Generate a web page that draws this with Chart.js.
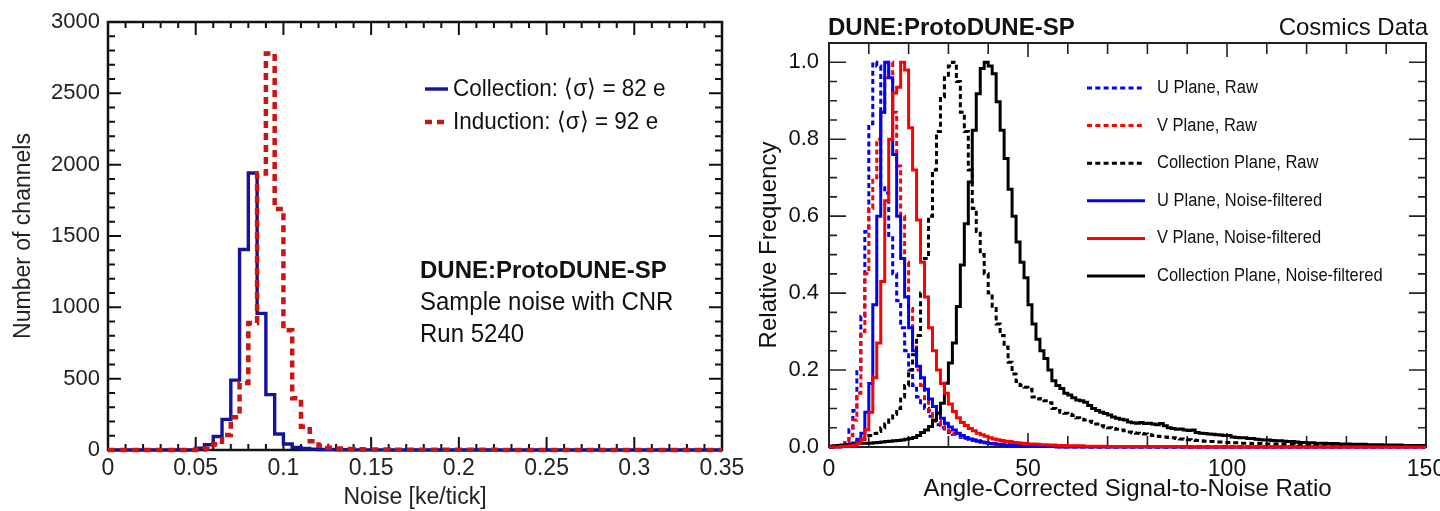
<!DOCTYPE html>
<html>
<head>
<meta charset="utf-8">
<script src="https://cdn.jsdelivr.net/npm/chart.js@4.4.1/dist/chart.umd.min.js"></script>
<style>
  html, body { margin: 0; padding: 0; background: #fff; overflow: hidden; }
  #wrap { position: relative; width: 1440px; height: 511px; overflow: hidden; }
  #noise { position: absolute; left: 0; top: 0; }
  #snr { position: absolute; left: 740px; top: 0; }
</style>
</head>
<body>
<div id="wrap">
  <canvas id="noise" width="760" height="511"></canvas>
  <canvas id="snr" width="720" height="511"></canvas>
</div>
<script>
// ---- left panel: noise per channel, bins of 0.005 ke/tick from 0 to 0.35 ----
const noiseBinWidth = 0.005;
const collectionCounts = [
  0, 0, 0, 0, 0, 0, 0, 0, 0, 0,
  12, 38, 95, 215, 490, 1405, 1942, 958, 388, 112,
  42, 18, 10, 6, 4, 3, 2, 2, 1, 1,
  1, 1, 0, 0, 0, 0, 0, 0, 0, 0,
  0, 0, 0, 0, 0, 0, 0, 0, 0, 0,
  0, 0, 0, 0, 0, 0, 0, 0, 0, 0,
  0, 0, 0, 0, 0, 0, 0, 0, 0, 0,
];
const inductionCounts = [
  0, 0, 0, 0, 0, 0, 0, 0, 0, 0,
  3, 10, 40, 105, 230, 470, 890, 1938, 2780, 1690,
  840, 362, 163, 62, 30, 16, 10, 7, 5, 4,
  3, 3, 2, 2, 2, 1, 1, 1, 1, 1,
  1, 1, 1, 1, 1, 0, 0, 0, 0, 0,
  0, 0, 0, 0, 0, 0, 0, 0, 0, 0,
  0, 0, 0, 0, 0, 0, 0, 0, 0, 0,
];
const noiseTicks = [0, 0.05, 0.1, 0.15, 0.2, 0.25, 0.3, 0.35];
const noiseTickLabels = ["0", "0.05", "0.1", "0.15", "0.2", "0.25", "0.3", "0.35"];
const channelTicks = [0, 500, 1000, 1500, 2000, 2500, 3000];
const channelTickLabels = ["0", "500", "1000", "1500", "2000", "2500", "3000"];

// ---- right panel: angle-corrected S/N, bins of 1 from 0 to 150, peak-normalised ----
const snrBinWidth = 1;
const uRaw = [
  0, 0, 0.002, 0.006, 0.015, 0.045, 0.095, 0.2, 0.34, 0.56,
  0.84, 1.0, 0.99, 0.68, 0.66, 0.55, 0.45, 0.38, 0.31, 0.25,
  0.2, 0.16, 0.13, 0.11, 0.1, 0.08, 0.068, 0.058, 0.05, 0.043,
  0.038, 0.033, 0.029, 0.025, 0.022, 0.02, 0.018, 0.016, 0.014, 0.012,
  0.01, 0.009, 0.008, 0.007, 0.006, 0.005, 0.004, 0.004, 0.003, 0.003,
  0.002, 0.002, 0.002, 0.001, 0.001, 0.001, 0.001, 0, 0, 0,
  0, 0, 0, 0, 0, 0, 0, 0, 0, 0,
  0, 0, 0, 0, 0, 0, 0, 0, 0, 0,
  0, 0, 0, 0, 0, 0, 0, 0, 0, 0,
  0, 0, 0, 0, 0, 0, 0, 0, 0, 0,
  0, 0, 0, 0, 0, 0, 0, 0, 0, 0,
  0, 0, 0, 0, 0, 0, 0, 0, 0, 0,
  0, 0, 0, 0, 0, 0, 0, 0, 0, 0,
  0, 0, 0, 0, 0, 0, 0, 0, 0, 0,
  0, 0, 0, 0, 0, 0, 0, 0, 0, 0,
];
const vRaw = [
  0, 0, 0.002, 0.005, 0.012, 0.03, 0.07, 0.14, 0.3, 0.45,
  0.62, 0.7, 0.8, 0.87, 0.96, 1.0, 0.87, 0.73, 0.6, 0.48,
  0.36, 0.26, 0.2, 0.16, 0.12, 0.095, 0.08, 0.066, 0.056, 0.047,
  0.04, 0.035, 0.03, 0.026, 0.022, 0.019, 0.017, 0.015, 0.013, 0.011,
  0.01, 0.009, 0.008, 0.007, 0.006, 0.005, 0.005, 0.004, 0.004, 0.003,
  0.003, 0.003, 0.002, 0.002, 0.002, 0.002, 0.001, 0.001, 0.001, 0.001,
  0.001, 0.001, 0.001, 0.001, 0.001, 0, 0, 0, 0, 0,
  0, 0, 0, 0, 0, 0, 0, 0, 0, 0,
  0, 0, 0, 0, 0, 0, 0, 0, 0, 0,
  0, 0, 0, 0, 0, 0, 0, 0, 0, 0,
  0, 0, 0, 0, 0, 0, 0, 0, 0, 0,
  0, 0, 0, 0, 0, 0, 0, 0, 0, 0,
  0, 0, 0, 0, 0, 0, 0, 0, 0, 0,
  0, 0, 0, 0, 0, 0, 0, 0, 0, 0,
  0, 0, 0, 0, 0, 0, 0, 0, 0, 0,
];
const cRaw = [
  0, 0.001, 0.002, 0.003, 0.005, 0.008, 0.01, 0.015, 0.02, 0.025,
  0.03, 0.035, 0.04, 0.05, 0.06, 0.07, 0.085, 0.1, 0.13, 0.16,
  0.2, 0.24, 0.29, 0.4, 0.49, 0.6, 0.72, 0.82, 0.91, 0.96,
  0.99, 1.0, 0.95, 0.87, 0.82, 0.72, 0.62, 0.56, 0.5, 0.45,
  0.4, 0.36, 0.32, 0.29, 0.26, 0.22, 0.19, 0.17, 0.16, 0.155,
  0.15, 0.13, 0.125, 0.126, 0.12, 0.115, 0.1, 0.095, 0.09, 0.088,
  0.085, 0.082, 0.076, 0.072, 0.07, 0.067, 0.064, 0.06, 0.055, 0.052,
  0.05, 0.048, 0.046, 0.044, 0.042, 0.039, 0.037, 0.036, 0.035, 0.034,
  0.032, 0.03, 0.028, 0.027, 0.026, 0.025, 0.024, 0.022, 0.021, 0.02,
  0.019, 0.018, 0.017, 0.016, 0.015, 0.014, 0.014, 0.013, 0.013, 0.012,
  0.012, 0.011, 0.011, 0.01, 0.01, 0.01, 0.009, 0.009, 0.009, 0.008,
  0.008, 0.008, 0.008, 0.007, 0.007, 0.007, 0.007, 0.006, 0.006, 0.006,
  0.006, 0.006, 0.005, 0.005, 0.005, 0.005, 0.005, 0.005, 0.004, 0.004,
  0.004, 0.004, 0.004, 0.004, 0.004, 0.003, 0.003, 0.003, 0.003, 0.003,
  0.003, 0.003, 0.003, 0.003, 0.002, 0.002, 0.002, 0.002, 0.002, 0.002,
];
const uFilt = [
  0, 0, 0, 0.001, 0.002, 0.005, 0.01, 0.02, 0.036, 0.09,
  0.165, 0.37, 0.6, 0.87, 1.0, 0.96, 0.76, 0.6, 0.49, 0.39,
  0.31, 0.25, 0.21, 0.18, 0.15, 0.125, 0.105, 0.088, 0.075, 0.062,
  0.052, 0.044, 0.036, 0.03, 0.025, 0.021, 0.018, 0.015, 0.013, 0.011,
  0.009, 0.008, 0.007, 0.006, 0.005, 0.004, 0.004, 0.003, 0.003, 0.002,
  0.002, 0.002, 0.002, 0.001, 0.001, 0.001, 0.001, 0.001, 0, 0,
  0, 0, 0, 0, 0, 0, 0, 0, 0, 0,
  0, 0, 0, 0, 0, 0, 0, 0, 0, 0,
  0, 0, 0, 0, 0, 0, 0, 0, 0, 0,
  0, 0, 0, 0, 0, 0, 0, 0, 0, 0,
  0, 0, 0, 0, 0, 0, 0, 0, 0, 0,
  0, 0, 0, 0, 0, 0, 0, 0, 0, 0,
  0, 0, 0, 0, 0, 0, 0, 0, 0, 0,
  0, 0, 0, 0, 0, 0, 0, 0, 0, 0,
  0, 0, 0, 0, 0, 0, 0, 0, 0, 0,
];
const vFilt = [
  0, 0, 0, 0.001, 0.002, 0.003, 0.005, 0.01, 0.02, 0.045,
  0.09, 0.18, 0.27, 0.43, 0.64, 0.8, 0.92, 0.935, 1.0, 0.98,
  0.83, 0.72, 0.59, 0.48, 0.39, 0.31, 0.25, 0.2, 0.165, 0.14,
  0.112, 0.092, 0.076, 0.064, 0.056, 0.048, 0.042, 0.036, 0.032, 0.028,
  0.024, 0.021, 0.019, 0.017, 0.015, 0.014, 0.012, 0.011, 0.01, 0.009,
  0.008, 0.008, 0.007, 0.006, 0.006, 0.005, 0.005, 0.004, 0.004, 0.004,
  0.003, 0.003, 0.003, 0.003, 0.002, 0.002, 0.002, 0.002, 0.002, 0.002,
  0.001, 0.001, 0.001, 0.001, 0.001, 0.001, 0.001, 0.001, 0.001, 0.001,
  0.001, 0.001, 0.001, 0.001, 0.001, 0.001, 0.001, 0.001, 0.001, 0.001,
  0, 0, 0, 0, 0, 0, 0, 0, 0, 0,
  0, 0, 0, 0, 0, 0, 0, 0, 0, 0,
  0, 0, 0, 0, 0, 0, 0, 0, 0, 0,
  0, 0, 0, 0, 0, 0, 0, 0, 0, 0,
  0, 0, 0, 0, 0, 0, 0, 0, 0, 0,
  0, 0, 0, 0, 0, 0, 0, 0, 0, 0,
];
const cFilt = [
  0.002, 0.003, 0.004, 0.005, 0.006, 0.007, 0.008, 0.009, 0.01, 0.01,
  0.01, 0.011, 0.012, 0.013, 0.014, 0.015, 0.016, 0.017, 0.018, 0.02,
  0.022, 0.025, 0.03, 0.038, 0.044, 0.053, 0.07, 0.088, 0.114, 0.166,
  0.218, 0.27, 0.365, 0.473, 0.58, 0.689, 0.823, 0.918, 0.984, 1.0,
  0.99, 0.97, 0.897, 0.823, 0.75, 0.67, 0.6, 0.533, 0.48, 0.44,
  0.37, 0.32, 0.28, 0.25, 0.23, 0.2, 0.172, 0.16, 0.152, 0.14,
  0.135, 0.128, 0.122, 0.12, 0.116, 0.108, 0.1, 0.095, 0.09, 0.087,
  0.083, 0.078, 0.075, 0.072, 0.07, 0.065, 0.063, 0.062, 0.064, 0.061,
  0.062, 0.06, 0.058, 0.061, 0.055, 0.05, 0.048, 0.046, 0.047, 0.044,
  0.043, 0.044, 0.038, 0.036, 0.035, 0.034, 0.033, 0.032, 0.031, 0.03,
  0.03, 0.026, 0.025, 0.024, 0.024, 0.022, 0.022, 0.02, 0.019, 0.018,
  0.018, 0.017, 0.016, 0.016, 0.015, 0.014, 0.014, 0.013, 0.012, 0.012,
  0.011, 0.011, 0.01, 0.01, 0.01, 0.009, 0.009, 0.009, 0.008, 0.008,
  0.008, 0.007, 0.007, 0.007, 0.007, 0.006, 0.006, 0.006, 0.006, 0.005,
  0.005, 0.005, 0.005, 0.005, 0.004, 0.004, 0.004, 0.004, 0.004, 0.004,
];
const snrTicks = [0, 50, 100, 150];
const snrTickLabels = ["0", "50", "100", "150"];
const freqTicks = [0, 0.2, 0.4, 0.6, 0.8, 1.0];
const freqTickLabels = ["0.0", "0.2", "0.4", "0.6", "0.8", "1.0"];

Chart.defaults.font.family = '"Liberation Sans", Arial, Helvetica, sans-serif';
Chart.defaults.color = "#111";

// one point per bin low edge plus a closing point at the last high edge
function histPoints(values, width) {
  const pts = values.map((v, i) => ({ x: i * width, y: v }));
  pts.push({ x: values.length * width, y: values[values.length - 1] });
  return pts;
}

function isMultiple(v, step) {
  const r = v / step;
  return Math.abs(r - Math.round(r)) < 1e-6;
}

// ROOT-style frame with inward ticks on all four sides
function framePlugin(cfg) {
  return {
    id: "frame",
    beforeDatasetsDraw(chart) {
      const { ctx, chartArea: a, scales: { x, y } } = chart;
      ctx.save();
      ctx.strokeStyle = cfg.color;
      ctx.lineWidth = cfg.tickWidth;
      ctx.beginPath();
      const nx = Math.round((x.max - x.min) / cfg.xMinor);
      for (let i = 0; i <= nx; i++) {
        const v = x.min + i * cfg.xMinor;
        const px = x.getPixelForValue(v);
        const len = isMultiple(v, cfg.xMajor) ? cfg.xMajorLen : cfg.xMinorLen;
        ctx.moveTo(px, a.bottom);
        ctx.lineTo(px, a.bottom - len);
        ctx.moveTo(px, a.top);
        ctx.lineTo(px, a.top + len);
      }
      const ny = Math.round((y.max - y.min) / cfg.yMinor);
      for (let i = 0; i <= ny; i++) {
        const v = y.min + i * cfg.yMinor;
        const py = y.getPixelForValue(v);
        const len = isMultiple(v, cfg.yMajor) ? cfg.yMajorLen : cfg.yMinorLen;
        ctx.moveTo(a.left, py);
        ctx.lineTo(a.left + len, py);
        ctx.moveTo(a.right, py);
        ctx.lineTo(a.right - len, py);
      }
      ctx.stroke();
      ctx.lineWidth = cfg.frameWidth;
      ctx.strokeRect(a.left, a.top, a.right - a.left, a.bottom - a.top);
      ctx.restore();
    },
  };
}

// draw text slightly taller than the font's natural shape (the original is a condensed Helvetica)
function drawText(ctx, text, x, y, font, align, stretchY) {
  ctx.save();
  ctx.font = font;
  ctx.fillStyle = "#111";
  ctx.textAlign = align || "left";
  ctx.textBaseline = "middle";
  ctx.translate(x, y);
  ctx.scale(1, stretchY || 1);
  ctx.fillText(text, 0, 0);
  ctx.restore();
}

// legend drawn inside the plot, one row per dataset in index order
function legendPlugin(cfg) {
  return {
    id: "inlineLegend",
    afterDatasetsDraw(chart) {
      const ctx = chart.ctx;
      chart.data.datasets.forEach((ds, i) => {
        const y = cfg.y + i * cfg.rowGap;
        ctx.save();
        ctx.strokeStyle = ds.borderColor;
        ctx.lineWidth = ds.borderWidth;
        ctx.setLineDash(ds.borderDash || []);
        ctx.beginPath();
        ctx.moveTo(cfg.x, y);
        ctx.lineTo(cfg.x + cfg.len, y);
        ctx.stroke();
        ctx.restore();
        drawText(ctx, ds.label, cfg.x + cfg.len + cfg.gap, y, cfg.font, "left", cfg.stretchY);
      });
    },
  };
}

function textPlugin(items) {
  return {
    id: "notes",
    afterDraw(chart) {
      items.forEach((t) => drawText(chart.ctx, t.text, t.x, t.y, t.font, t.align, t.stretchY));
    },
  };
}

const FONT = '"Liberation Sans", Arial, sans-serif';

new Chart(document.getElementById("noise"), {
  type: "line",
  data: {
    datasets: [
      {
        label: "Collection: \u27E8\u03C3\u27E9 = 82 e",
        data: histPoints(collectionCounts, noiseBinWidth),
        borderColor: "#14149a",
        borderWidth: 3.4,
        stepped: true,
        pointRadius: 0,
        clip: false,
        order: 1,
      },
      {
        label: "Induction: \u27E8\u03C3\u27E9 = 92 e",
        data: histPoints(inductionCounts, noiseBinWidth),
        borderColor: "#cc1414",
        borderWidth: 4.5,
        borderDash: [7, 5],
        stepped: true,
        pointRadius: 0,
        clip: false,
        order: 0,
      },
    ],
  },
  options: {
    responsive: false,
    animation: false,
    events: [],
    layout: { padding: { top: 22, right: 38, left: 0, bottom: 0 } },
    plugins: { legend: { display: false }, tooltip: { enabled: false } },
    scales: {
      x: {
        type: "linear",
        min: 0,
        max: 0.35,
        afterBuildTicks: (s) => { s.ticks = noiseTicks.map((v) => ({ value: v })); },
        afterFit: (s) => { s.height = 61; },
        grid: { display: false, drawTicks: false },
        border: { display: false },
        ticks: {
          padding: 5, color: "#222", font: { size: 23 }, maxRotation: 0, autoSkip: false,
          callback: (v, i) => noiseTickLabels[i],
        },
        title: {
          display: true, text: "Noise [ke/tick]", color: "#222",
          font: { size: 23 }, padding: { top: 0, bottom: 0 },
        },
      },
      y: {
        type: "linear",
        min: 0,
        max: 3000,
        afterBuildTicks: (s) => { s.ticks = channelTicks.map((v) => ({ value: v })); },
        afterFit: (s) => { s.width = 108; },
        grid: { display: false, drawTicks: false },
        border: { display: false },
        ticks: {
          padding: 8, color: "#222", font: { size: 22 }, autoSkip: false,
          callback: (v, i) => channelTickLabels[i],
        },
        title: {
          display: true, text: "Number of channels", color: "#222",
          font: { size: 23 }, padding: { top: 10, bottom: 0 },
        },
      },
    },
  },
  plugins: [
    framePlugin({
      color: "#111", tickWidth: 2, frameWidth: 2.5,
      xMinor: 0.01, xMajor: 0.05, xMajorLen: 13, xMinorLen: 6,
      yMinor: 100, yMajor: 500, yMajorLen: 13, yMinorLen: 7,
    }),
    legendPlugin({ x: 425, y: 89, rowGap: 33, len: 23, gap: 5, font: "22.5px " + FONT, stretchY: 1.08 }),
    textPlugin([
      { text: "DUNE:ProtoDUNE-SP", x: 420, y: 271, font: "bold 24px " + FONT },
      { text: "Sample noise with CNR", x: 420, y: 303, font: "24px " + FONT, stretchY: 1.05 },
      { text: "Run 5240", x: 420, y: 335, font: "24px " + FONT, stretchY: 1.05 },
    ]),
  ],
});

const rawDash = [5, 3.3];
new Chart(document.getElementById("snr"), {
  type: "line",
  data: {
    datasets: [
      { label: "U Plane, Raw", data: histPoints(uRaw, snrBinWidth), borderColor: "#0000ff", borderWidth: 3, borderDash: rawDash, order: 5 },
      { label: "V Plane, Raw", data: histPoints(vRaw, snrBinWidth), borderColor: "#ff0000", borderWidth: 3, borderDash: rawDash, order: 4 },
      { label: "Collection Plane, Raw", data: histPoints(cRaw, snrBinWidth), borderColor: "#000000", borderWidth: 3, borderDash: rawDash, order: 3 },
      { label: "U Plane, Noise-filtered", data: histPoints(uFilt, snrBinWidth), borderColor: "#0000ff", borderWidth: 3, order: 2 },
      { label: "V Plane, Noise-filtered", data: histPoints(vFilt, snrBinWidth), borderColor: "#ff0000", borderWidth: 3, order: 0 },
      { label: "Collection Plane, Noise-filtered", data: histPoints(cFilt, snrBinWidth), borderColor: "#000000", borderWidth: 3, order: 1 },
    ],
  },
  options: {
    responsive: false,
    animation: false,
    events: [],
    datasets: { line: { stepped: true, pointRadius: 0, clip: false } },
    layout: { padding: { top: 43, right: 34, left: 0, bottom: 0 } },
    plugins: { legend: { display: false }, tooltip: { enabled: false } },
    scales: {
      x: {
        type: "linear",
        min: 0,
        max: 150,
        afterBuildTicks: (s) => { s.ticks = snrTicks.map((v) => ({ value: v })); },
        afterFit: (s) => { s.height = 64; },
        grid: { display: false, drawTicks: false },
        border: { display: false },
        ticks: {
          padding: 9, color: "#111", font: { size: 23 }, maxRotation: 0, autoSkip: false,
          callback: (v, i) => snrTickLabels[i],
        },
        title: {
          display: true, text: "Angle-Corrected Signal-to-Noise Ratio", color: "#111",
          font: { size: 24 }, padding: { top: 0, bottom: 7 },
        },
      },
      y: {
        type: "linear",
        min: 0,
        max: 1.05,
        afterBuildTicks: (s) => { s.ticks = freqTicks.map((v) => ({ value: v })); },
        afterFit: (s) => { s.width = 89; },
        grid: { display: false, drawTicks: false },
        border: { display: false },
        ticks: {
          padding: 10, color: "#111", font: { size: 22 }, autoSkip: false,
          callback: (v, i) => freqTickLabels[i],
        },
        title: {
          display: true, text: "Relative Frequency", color: "#111",
          font: { size: 24 }, padding: { top: 15, bottom: 0 },
        },
      },
    },
  },
  plugins: [
    framePlugin({
      color: "#222", tickWidth: 1.6, frameWidth: 2,
      xMinor: 10, xMajor: 50, xMajorLen: 14, xMinorLen: 11,
      yMinor: 0.05, yMajor: 0.2, yMajorLen: 17, yMinorLen: 8,
    }),
    legendPlugin({ x: 347, y: 88, rowGap: 37.6, len: 58, gap: 12, font: "16.5px " + FONT, stretchY: 1.12 }),
    textPlugin([
      { text: "DUNE:ProtoDUNE-SP", x: 88, y: 28, font: "bold 24px " + FONT },
      { text: "Cosmics Data", x: 688, y: 28, font: "24px " + FONT, align: "right" },
    ]),
  ],
});
</script>
</body>
</html>
